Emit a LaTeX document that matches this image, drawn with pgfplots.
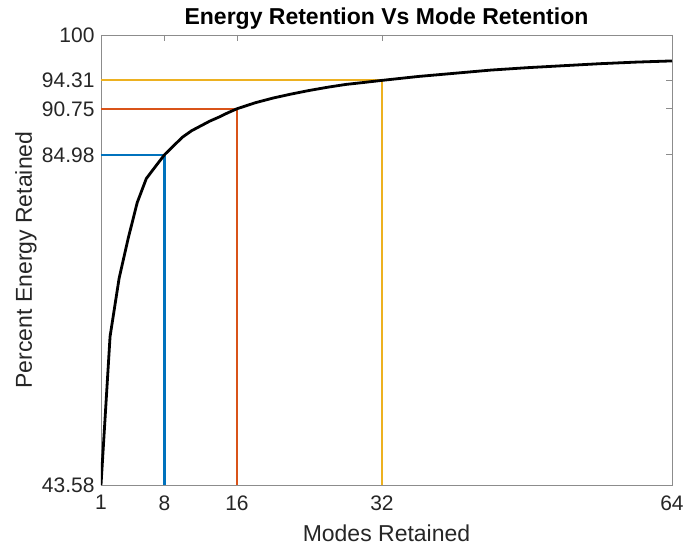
\documentclass[border=0pt]{standalone}
\usepackage{pgfplots}
\pgfplotsset{compat=1.18}
\usepackage{fontspec}
\setmainfont{Liberation Sans}
\definecolor{mblue}{rgb}{0,0.447,0.741}
\definecolor{morange}{rgb}{0.85,0.325,0.098}
\definecolor{myellow}{rgb}{0.929,0.694,0.125}
\definecolor{axgray}{rgb}{0.15,0.15,0.15}
\begin{document}
\begin{tikzpicture}
\begin{axis}[
	scale only axis,
	width=571pt, height=450pt,
	xmin=1, xmax=64, ymin=43.58, ymax=100,
	xtick={1,8,16,32,64},
	ytick={43.58,84.98,90.75,94.31,100},
	yticklabels={43.58,84.98,90.75,94.31,100},
	tick pos=both, tick align=inside,
	major tick length=6pt,
	axis line style={draw=black!45, line width=0.9pt},
	every tick/.style={black!45, line width=0.9pt},
	tick label style={font=\fontsize{21}{24}\selectfont, text=axgray},
	xticklabel style={yshift=-7pt},
	yticklabel style={xshift=-3pt},
	/pgf/number format/assume math mode=true,
	xlabel={Modes Retained}, ylabel={Percent Energy Retained},
	label style={font=\fontsize{23}{26}\selectfont, text=axgray},
	xlabel style={at={(rel axis cs:0.5,0)}, anchor=base, yshift=-56pt},
	ylabel style={at={(rel axis cs:0,0.5)}, anchor=base, yshift=69pt},
	title={Energy Retention Vs Mode Retention},
	title style={font=\bfseries\fontsize{23}{26}\selectfont, at={(rel axis cs:0.5,1)}, anchor=base, yshift=4pt},
]
\addplot[mblue, line width=2.2pt] coordinates {(1,84.98) (8,84.98) (8,43.58)};
\addplot[morange, line width=2.2pt] coordinates {(1,90.75) (16,90.75) (16,43.58)};
\addplot[myellow, line width=2.2pt] coordinates {(1,94.31) (32,94.31) (32,43.58)};
\addplot[black, line width=2.8pt, line join=round] coordinates {
	(1,43.58) (2,62.2) (3,69.5) (4,74.5) (5,79.0) (6,82.0) (7,83.5) (8,84.98)
	(9,86.1) (10,87.2) (11,88.0) (12,88.6) (13,89.2) (14,89.7) (15,90.25) (16,90.75)
	(18,91.5) (20,92.1) (22,92.6) (24,93.05) (26,93.45) (28,93.8) (30,94.05) (32,94.31)
	(36,94.8) (40,95.2) (44,95.6) (48,95.9) (52,96.15) (56,96.4) (60,96.6) (64,96.75)};
\coordinate (bl) at (rel axis cs:0,0);
\coordinate (tr) at (rel axis cs:1,1);
\end{axis}
\pgfresetboundingbox
\path[use as bounding box] ([shift={(-101pt,-60pt)}]bl) rectangle ([shift={(13pt,35pt)}]tr);
\end{tikzpicture}
\end{document}
